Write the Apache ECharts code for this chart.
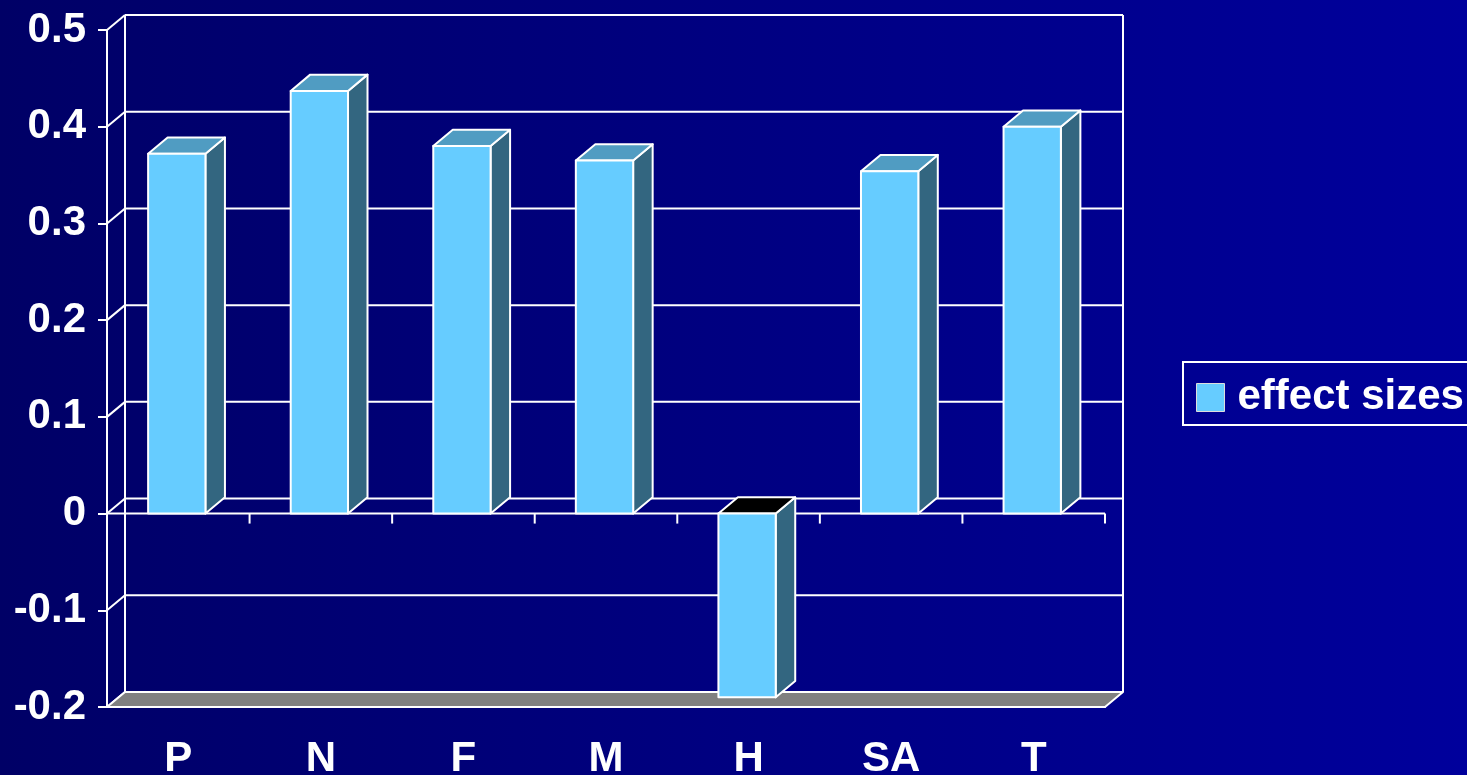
<!DOCTYPE html>
<html>
<head>
<meta charset="utf-8">
<title>effect sizes</title>
<script src="https://cdn.jsdelivr.net/npm/echarts@6/dist/echarts.min.js"></script>
<style>
  html, body { margin: 0; padding: 0; width: 100%; height: 100%; overflow: hidden; background: #000080; }
  #chart { width: 1467px; height: 775px; }
</style>
</head>
<body>
<div id="chart"></div>
<script>
// ---- data ----
const categories = ['P', 'N', 'F', 'M', 'H', 'SA', 'T'];
const effectSizes = [0.372, 0.437, 0.380, 0.365, -0.190, 0.354, 0.400];
const yTicks = [-0.2, -0.1, 0, 0.1, 0.2, 0.3, 0.4, 0.5];
const seriesName = 'effect sizes';

// ---- styling ----
const FONT = '"Liberation Sans", Arial, Helvetica, sans-serif';
const LINE = '#ffffff';
const FRONT = '#66CCFF';
const TOP = '#509CC2';
const SIDE = '#336680';
const NEG_TOP = '#000000';
const FLOOR = '#808080';
const WALL_DX = 18, WALL_DY = -15;     // depth offset of the back wall
const BAR_DX = 19.5, BAR_DY = -16.3;   // depth offset of each bar
const BAR_RATIO = 0.402;               // bar face width / category band
const BAR_SHIFT = -1.5;
const TICK_LEN = 10;

const Y_MIN = yTicks[0];
const Y_MAX = yTicks[yTicks.length - 1];
const Y_STEP = 0.1;

// back-wall gridline plus the side-wall diagonal for one tick value
function renderWallLine(params, api) {
  const cs = params.coordSys;
  const y = api.coord([0, api.value(0)])[1];
  const left = cs.x, right = cs.x + cs.width;
  const s = { stroke: LINE, lineWidth: 2 };
  return {
    type: 'group',
    children: [
      { type: 'line', shape: { x1: left + WALL_DX, y1: y + WALL_DY, x2: right + WALL_DX, y2: y + WALL_DY }, style: s },
      { type: 'line', shape: { x1: left, y1: y, x2: left + WALL_DX, y2: y + WALL_DY }, style: s }
    ]
  };
}

// back-wall verticals and the grey floor slab
function renderFloor(params, api) {
  const cs = params.coordSys;
  const yb = api.coord([0, api.value(0)])[1];
  const yt = api.coord([0, api.value(1)])[1];
  const l = cs.x, r = cs.x + cs.width;
  const s = { stroke: LINE, lineWidth: 2 };
  return {
    type: 'group',
    children: [
      { type: 'line', shape: { x1: l + WALL_DX, y1: yt + WALL_DY, x2: l + WALL_DX, y2: yb + WALL_DY }, style: s },
      { type: 'line', shape: { x1: r + WALL_DX, y1: yt + WALL_DY, x2: r + WALL_DX, y2: yb + WALL_DY }, style: s },
      {
        type: 'polygon',
        shape: { points: [[l, yb], [r, yb], [r + WALL_DX, yb + WALL_DY], [l + WALL_DX, yb + WALL_DY]] },
        style: { fill: FLOOR, stroke: LINE, lineWidth: 2, lineJoin: 'round' }
      }
    ]
  };
}

// the category baseline at value 0, with ticks between categories
function renderBaseline(params, api) {
  const cs = params.coordSys;
  const y = api.coord([0, api.value(0)])[1];
  const band = api.size([1, 0])[0];
  const s = { stroke: LINE, lineWidth: 2 };
  const children = [
    { type: 'line', shape: { x1: cs.x, y1: y, x2: cs.x + cs.width, y2: y }, style: s }
  ];
  for (let k = 1; k <= categories.length; k++) {
    const x = api.coord([k - 1, 0])[0] + band / 2;
    children.push({ type: 'line', shape: { x1: x, y1: y, x2: x, y2: y + TICK_LEN }, style: s });
  }
  return { type: 'group', children: children };
}

// a 3D column: front face, top face and right side face
function renderBar(params, api) {
  const i = api.value(0), v = api.value(1);
  const base = api.coord([i, 0]);
  const end = api.coord([i, v]);
  const bw = api.size([1, 0])[0] * BAR_RATIO;
  const x0 = base[0] - bw / 2 + BAR_SHIFT, x1 = x0 + bw;
  const yHi = Math.min(base[1], end[1]);
  const yLo = Math.max(base[1], end[1]);
  const st = (fill) => ({ fill: fill, stroke: LINE, lineWidth: 2, lineJoin: 'round' });
  return {
    type: 'group',
    children: [
      { type: 'polygon', shape: { points: [[x1, yHi], [x1 + BAR_DX, yHi + BAR_DY], [x1 + BAR_DX, yLo + BAR_DY], [x1, yLo]] }, style: st(SIDE) },
      { type: 'polygon', shape: { points: [[x0, yHi], [x0 + BAR_DX, yHi + BAR_DY], [x1 + BAR_DX, yHi + BAR_DY], [x1, yHi]] }, style: st(v < 0 ? NEG_TOP : TOP) },
      { type: 'rect', shape: { x: x0, y: yHi, width: bw, height: yLo - yHi }, style: st(FRONT) }
    ]
  };
}

const labelStyle = { color: '#ffffff', fontSize: 42, fontWeight: 'bold', fontFamily: FONT };

const option = {
  animation: false,
  backgroundColor: {
    type: 'linear', x: 0, y: 0, x2: 1, y2: 0,
    colorStops: [{ offset: 0, color: '#000066' }, { offset: 1, color: '#00009C' }]
  },
  grid: { left: 107, right: 362, top: 30, height: 677, outerBoundsMode: 'none', containLabel: false },
  legend: {
    data: [seriesName],
    left: 1183, top: 362,
    padding: [14, 20, 6, 13],
    borderColor: '#ffffff', borderWidth: 2,
    icon: 'rect', itemWidth: 28, itemHeight: 28,
    itemStyle: { color: FRONT, borderColor: '#dddddd', borderWidth: 1 },
    textStyle: Object.assign({ lineHeight: 43, padding: [0, 0, 0, 8] }, labelStyle),
    selectedMode: false
  },
  xAxis: {
    type: 'category', data: categories, position: 'bottom',
    axisLine: { onZero: false, lineStyle: { color: LINE, width: 2 } },
    axisTick: { length: TICK_LEN, lineStyle: { color: LINE, width: 2 } },
    axisLabel: Object.assign({ margin: 31 }, labelStyle),
    splitLine: { show: false }
  },
  yAxis: {
    type: 'value', min: Y_MIN, max: Y_MAX, interval: Y_STEP,
    axisLine: { show: true, onZero: false, lineStyle: { color: LINE, width: 2 } },
    axisTick: { show: true, length: 9, lineStyle: { color: LINE, width: 2 } },
    axisLabel: Object.assign({ margin: 21 }, labelStyle),
    splitLine: { show: false }
  },
  series: [
    {
      name: 'wall', type: 'custom', z: 1, silent: true,
      renderItem: renderWallLine,
      data: yTicks.map(v => [v]),
      encode: { y: 0 }
    },
    {
      name: 'floor', type: 'custom', z: 2, silent: true,
      renderItem: renderFloor,
      data: [[Y_MIN, Y_MAX]],
      encode: { y: [0, 1] }
    },
    {
      name: 'baseline', type: 'custom', z: 3, silent: true,
      renderItem: renderBaseline,
      data: [[0]],
      encode: { y: 0 }
    },
    {
      name: seriesName, type: 'custom', z: 4,
      itemStyle: { color: FRONT },
      renderItem: renderBar,
      data: effectSizes.map((v, i) => [i, v]),
      encode: { x: 0, y: 1 }
    }
  ]
};

const chart = echarts.init(document.getElementById('chart'), null, { renderer: 'canvas' });
chart.setOption(option);
</script>
</body>
</html>
